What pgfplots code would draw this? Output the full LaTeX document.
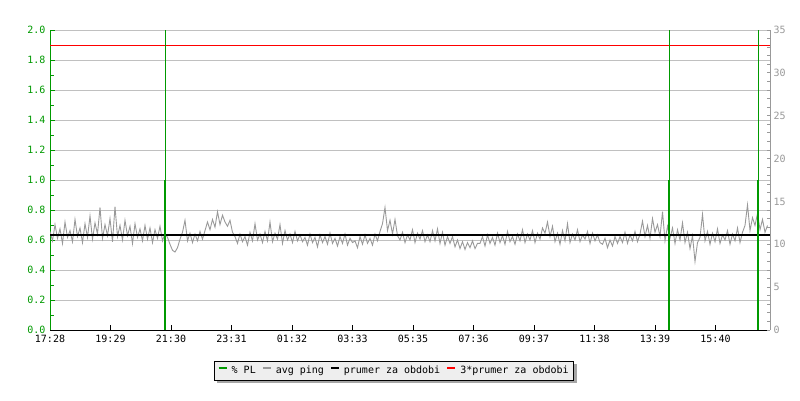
\documentclass[border=0pt]{standalone}
\usepackage{pgfplots}
\pgfplotsset{compat=1.18}
\usepackage{pgfplotstable}
\usepackage{fontspec}
\setmainfont{DejaVu Sans Mono}
\setmonofont{DejaVu Sans Mono}
\definecolor{plgreen}{RGB}{0,153,0}
\definecolor{pinggray}{RGB}{153,153,153}
\definecolor{gridgray}{RGB}{192,192,192}
\pgfdeclarelayer{shadowlayer}
\pgfsetlayers{shadowlayer,main}

\pgfplotstableread[row sep=\\]{
y\\
11.5\\ 10.4\\ 12.3\\ 10.7\\ 11.8\\ 10.1\\ 12.6\\ 10.8\\ 11.6\\ 10.3\\
12.9\\ 10.9\\ 11.9\\ 10.2\\ 12.4\\ 10.8\\ 13.3\\ 10.6\\ 12.5\\ 11.2\\
14.3\\ 10.7\\ 12.3\\ 11.0\\ 13.0\\ 10.3\\ 14.4\\ 10.9\\ 12.2\\ 10.5\\
12.8\\ 11.0\\ 12.1\\ 10.1\\ 12.4\\ 10.8\\ 11.8\\ 10.4\\ 12.2\\ 10.6\\
11.9\\ 10.2\\ 11.7\\ 10.7\\ 12.1\\ 10.4\\ 11.3\\
10.8\\ 10.0\\ 9.3\\ 9.1\\ 9.6\\
10.6\\ 11.4\\ 12.8\\ 10.4\\ 11.3\\ 10.2\\ 11.2\\ 10.4\\ 11.5\\ 10.6\\
11.6\\ 12.6\\ 11.7\\ 12.9\\ 12.0\\ 13.8\\ 12.3\\ 13.4\\ 12.6\\ 12.1\\ 12.8\\ 11.4\\
10.9\\ 10.1\\ 11.2\\ 10.3\\ 10.9\\ 9.9\\ 11.4\\ 10.4\\ 12.4\\ 10.5\\
11.2\\ 10.2\\ 11.5\\ 10.4\\ 12.6\\ 10.3\\ 11.3\\ 10.6\\ 12.3\\ 10.1\\
11.6\\ 10.5\\ 11.2\\ 10.2\\ 11.5\\ 10.4\\ 11.1\\ 10.3\\
10.8\\ 9.9\\ 11.2\\ 10.2\\ 10.8\\ 9.7\\ 11.1\\ 10.2\\ 10.9\\ 10.0\\
11.3\\ 10.1\\ 10.7\\ 9.8\\ 10.9\\ 10.1\\ 11.2\\ 9.9\\ 10.7\\ 10.2\\
10.4\\ 9.6\\ 10.9\\ 10.0\\ 11.1\\ 10.1\\ 10.7\\ 9.9\\ 11.2\\ 10.4\\
11.5\\ 12.4\\ 14.3\\ 11.6\\ 12.8\\ 11.2\\ 12.9\\ 11.0\\
10.5\\ 11.4\\ 10.2\\ 11.1\\ 10.5\\ 11.7\\ 10.2\\ 11.3\\ 10.6\\ 11.6\\ 10.3\\ 11.1\\
10.3\\ 11.6\\ 10.4\\ 11.8\\ 10.1\\ 11.4\\ 9.9\\ 10.9\\ 10.1\\ 10.9\\
9.7\\ 10.5\\ 9.5\\ 10.3\\ 9.4\\ 10.2\\ 9.6\\ 10.4\\ 9.5\\ 10.1\\
10.1\\ 10.9\\ 9.8\\ 11.1\\ 10.1\\ 10.8\\ 9.9\\ 11.3\\ 10.2\\ 11.0\\
10.0\\ 11.5\\ 10.3\\ 10.9\\ 10.0\\ 11.2\\ 10.4\\ 11.7\\ 10.2\\ 11.2\\
10.5\\ 11.6\\ 10.2\\ 11.3\\ 10.6\\ 11.9\\
11.3\\ 12.6\\ 10.9\\ 12.1\\
10.3\\ 11.3\\ 10.0\\ 11.6\\ 10.4\\ 12.4\\ 10.2\\ 11.2\\ 10.5\\ 11.7\\
10.3\\ 11.1\\ 10.6\\ 11.5\\ 10.1\\ 11.3\\ 10.4\\ 11.1\\
10.2\\ 10.0\\ 10.7\\ 9.6\\ 10.5\\ 9.8\\ 10.9\\ 10.1\\
10.9\\ 10.2\\ 11.4\\ 10.1\\ 11.1\\ 10.4\\ 11.5\\ 10.3\\
11.2\\ 12.7\\ 10.9\\ 12.2\\ 10.7\\ 13.0\\ 11.4\\ 12.3\\
10.9\\ 13.8\\ 10.4\\ 12.1\\ 10.7\\ 11.9\\ 10.1\\ 11.7\\ 10.5\\ 12.5\\ 10.2\\ 11.4\\ 9.5\\ 11.0\\ 8.0\\ 10.2\\
10.8\\ 13.5\\ 10.4\\ 11.5\\ 10.0\\ 11.3\\ 10.3\\ 11.8\\ 10.1\\ 11.1\\ 10.5\\ 11.6\\ 10.0\\ 11.2\\ 10.4\\ 11.9\\ 10.2\\ 11.4\\
12.2\\ 14.6\\ 11.6\\ 13.1\\ 12.2\\ 13.6\\ 11.7\\ 12.9\\ 11.4\\ 12.2\\
}\pingtable

\pgfplotsset{
  myaxis/.style={
    scale only axis, width=720pt, height=300pt,
    at={(50pt,70pt)}, anchor=south west,
    xmin=0, xmax=1440,
    font=\fontsize{10}{12}\selectfont,
    /pgf/number format/assume math mode=true,
    major tick length=5pt, minor tick length=4pt,
  }
}

\begin{document}
\begin{tikzpicture}
\path[use as bounding box] (0,0) rectangle (800pt,400pt);

% left axis (% PL scale) with grid and time axis
\begin{axis}[myaxis,
  ymin=0, ymax=2,
  axis y line*=left, axis x line*=bottom,
  y axis line style={plgreen, line width=1pt},
  x axis line style={black, line width=1pt},
  ytick={0,0.2,0.4,0.6,0.8,1.0,1.2,1.4,1.6,1.8,2.0},
  minor ytick={0.1,0.3,0.5,0.7,0.9,1.1,1.3,1.5,1.7,1.9},
  yticklabel style={plgreen, xshift=-1pt, /pgf/number format/.cd, fixed, fixed zerofill, precision=1},
  y tick style={plgreen, line width=1pt},
  x tick style={black, line width=1pt},
  xticklabel style={yshift=-2pt},
  ymajorgrids, major grid style={gridgray, line width=1pt},
  xtick={0,121,242,363,484,605,726,847,968,1089,1210,1331},
  xticklabels={17:28,19:29,21:30,23:31,01:32,03:33,05:35,07:36,09:37,11:38,13:39,15:40},
]
\end{axis}

% right axis (avg ping, ms)
\begin{axis}[myaxis,
  ymin=0, ymax=35,
  axis y line*=right, axis x line=none,
  y axis line style={pinggray, line width=1pt},
  y tick style={pinggray, line width=1pt},
  yticklabel style={pinggray},
  ytick={0,5,10,15,20,25,30,35},
  minor y tick num=4,
  major tick length=3pt, minor tick length=3pt,
]
\addplot[pinggray, line width=0.9pt, sharp plot] table[x expr=\coordindex*5, y=y]{\pingtable};
\addplot[black, line width=2.5pt] coordinates {(0,11.08) (1440,11.08)};
\addplot[red, line width=1pt] coordinates {(0,33.25) (1440,33.25)};
\end{axis}

% packet loss and legend
\begin{axis}[myaxis,
  ymin=0, ymax=2, hide axis,
  legend columns=4,
  legend style={at={(0.478,-0.135)}, anchor=center, draw=black, fill=gray!13,
    font=\fontsize{10}{12}\selectfont, inner xsep=3pt, inner ysep=3pt,
    name=lg,
    /tikz/every odd column/.append style={column sep=2pt},
    /tikz/every even column/.append style={column sep=4pt}},
  legend image code/.code={\draw[#1, line width=2pt] (0pt,3pt) -- (8pt,3pt);},
]
\addplot[plgreen, line width=1pt, ycomb, forget plot] coordinates {(230,2) (1238,2) (1416,2)};
\addplot[plgreen, line width=2pt, ycomb, forget plot] coordinates {(230,1) (1238,1) (1416,1)};
\addlegendimage{plgreen}
\addlegendentry{\% PL}
\addlegendimage{pinggray}
\addlegendentry{avg ping}
\addlegendimage{black}
\addlegendentry{prumer za obdobi}
\addlegendimage{red}
\addlegendentry{3*prumer za obdobi}
\node[font=\fontsize{10}{12}\selectfont, black] at (rel axis cs:0.5,1) [yshift=17pt] {10.150.100.215 vcera};
\end{axis}
\begin{pgfonlayer}{shadowlayer}
\fill[gray!70] ([shift={(3pt,-3pt)}]lg.south west) rectangle ([shift={(3pt,-3pt)}]lg.north east);
\end{pgfonlayer}
\end{tikzpicture}
\end{document}
